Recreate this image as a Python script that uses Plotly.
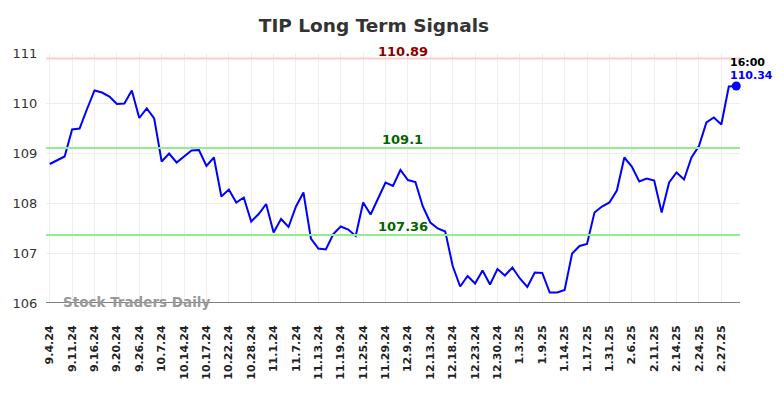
import plotly.graph_objects as go

values = [
    108.78, 108.86, 108.93, 109.47, 109.49, 109.88, 110.25, 110.21, 110.13, 109.98,
    109.99, 110.25, 109.70, 109.89, 109.69, 108.83, 108.99, 108.81, 108.93, 109.05,
    109.06, 108.74, 108.91, 108.13, 108.27, 108.01, 108.11, 107.63, 107.78, 107.98,
    107.41, 107.68, 107.52, 107.93, 108.21, 107.29, 107.09, 107.07, 107.38, 107.53,
    107.47, 107.34, 108.01, 107.77, 108.09, 108.41, 108.34, 108.66, 108.46, 108.42,
    107.93, 107.61, 107.49, 107.43, 106.74, 106.33, 106.54, 106.39, 106.65, 106.37,
    106.68, 106.55, 106.71, 106.49, 106.32, 106.61, 106.60, 106.21, 106.21, 106.26,
    106.99, 107.14, 107.18, 107.81, 107.93, 108.01, 108.25, 108.91, 108.73, 108.43,
    108.49, 108.45, 107.81, 108.41, 108.61, 108.47, 108.91, 109.14, 109.61, 109.71,
    109.57, 110.33, 110.34,
]

tick_labels = [
    "9.4.24", "9.11.24", "9.16.24", "9.20.24", "9.26.24", "10.7.24", "10.14.24",
    "10.17.24", "10.22.24", "10.28.24", "11.1.24", "11.7.24", "11.13.24", "11.19.24",
    "11.25.24", "11.29.24", "12.9.24", "12.13.24", "12.18.24", "12.23.24", "12.30.24",
    "1.3.25", "1.9.25", "1.14.25", "1.17.25", "1.31.25", "2.6.25", "2.11.25",
    "2.14.25", "2.24.25", "2.27.25",
]
tick_step = 3

resistance = 110.89
support_upper = 109.1
support_lower = 107.36
last_time = "16:00"
title_text = "TIP Long Term Signals"
watermark = "Stock Traders Daily"

x = list(range(len(values)))
tick_positions = [i * tick_step for i in range(len(tick_labels))]

FONT = "DejaVu Sans"

fig = go.Figure()
fig.add_trace(go.Scatter(
    x=x, y=values, mode="lines",
    line=dict(color="#0000ff", width=2),
    hoverinfo="skip", showlegend=False, cliponaxis=False,
))
fig.add_trace(go.Scatter(
    x=[x[-1]], y=[values[-1]], mode="markers",
    marker=dict(color="#0000ff", size=9),
    hoverinfo="skip", showlegend=False, cliponaxis=False,
))

for lvl, col in [(resistance, "#ffcccc"), (support_upper, "#90ee90"), (support_lower, "#90ee90")]:
    fig.add_shape(type="line", xref="paper", x0=0, x1=1, yref="y", y0=lvl, y1=lvl,
                  line=dict(color=col, width=2), layer="above")

mid_x = 47.3
fig.add_annotation(x=mid_x, y=resistance, text=f"<b>{resistance:.2f}</b>", showarrow=False,
                   yshift=7, font=dict(family=FONT, size=13, color="#8b0000"))
fig.add_annotation(x=mid_x, y=support_upper, text=f"<b>{support_upper:g}</b>", showarrow=False,
                   yshift=9, font=dict(family=FONT, size=13, color="#006400"))
fig.add_annotation(x=mid_x, y=support_lower, text=f"<b>{support_lower:.2f}</b>", showarrow=False,
                   yshift=9, font=dict(family=FONT, size=13, color="#006400"))

fig.add_annotation(x=x[-1], y=values[-1], text=f"<b>{last_time}</b>", showarrow=False,
                   xanchor="left", xshift=-8, yshift=24,
                   font=dict(family=FONT, size=11, color="#000000"))
fig.add_annotation(x=x[-1], y=values[-1], text=f"<b>{values[-1]:.2f}</b>", showarrow=False,
                   xanchor="left", xshift=-8, yshift=11,
                   font=dict(family=FONT, size=11, color="#0000ff"))

fig.add_annotation(xref="paper", yref="y", x=0.021, y=106, text=f"<b>{watermark}</b>",
                   showarrow=False, xanchor="left", yshift=1,
                   font=dict(family=FONT, size=13.5, color="#999999"))

fig.update_layout(
    width=776, height=390,
    margin=dict(l=38, r=44, t=45, b=95, autoexpand=False),
    paper_bgcolor="white", plot_bgcolor="white",
    title=dict(text=f"<b>{title_text}</b>", x=0.4716, xanchor="center", y=0.9546, yanchor="middle",
               font=dict(family=FONT, size=18.5, color="#333333")),
    font=dict(family=FONT),
)
fig.update_xaxes(
    range=[-0.5, len(values) - 0.5], automargin=False,
    tickmode="array", tickvals=tick_positions,
    ticktext=[f"<b>{t}</b>" for t in tick_labels],
    tickangle=-90, tickfont=dict(family=FONT, size=11, color="#222222"),
    showgrid=True, gridcolor="#eeeeee", gridwidth=1,
    zeroline=False, showline=False, ticks="outside", ticklen=17, tickcolor="rgba(0,0,0,0)",
)
fig.update_yaxes(
    range=[106, 111], tickvals=[106, 107, 108, 109, 110, 111], automargin=False,
    tickfont=dict(family=FONT, size=13, color="#333333"),
    showgrid=True, gridcolor="#eeeeee", gridwidth=1,
    zeroline=False, showline=False, ticks="outside", ticklen=5, tickcolor="rgba(0,0,0,0)",
)
fig.add_shape(type="line", xref="paper", x0=0, x1=1, yref="y", y0=106, y1=106,
              line=dict(color="#555555", width=1.5), layer="above")

fig.write_html("out.html")
